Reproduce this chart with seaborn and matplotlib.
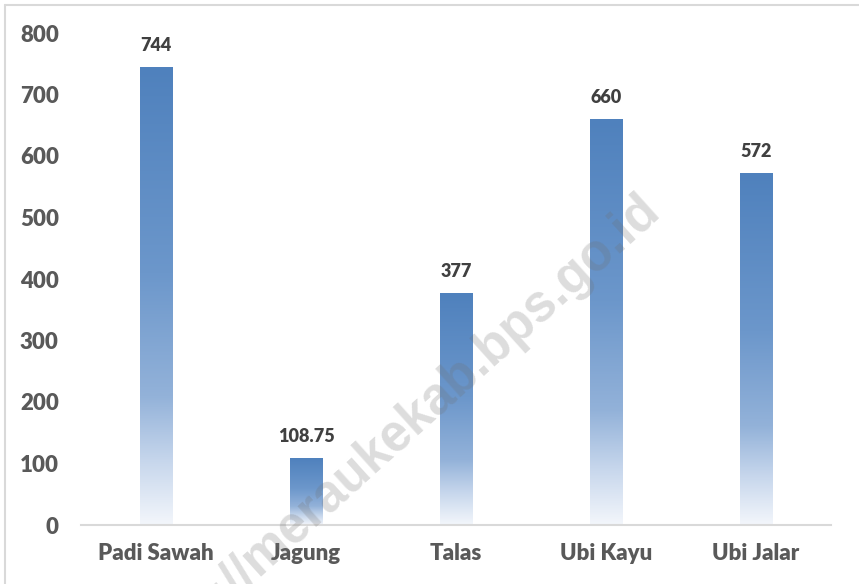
import numpy as np
import matplotlib
matplotlib.use('Agg')
import matplotlib.pyplot as plt
from matplotlib.colors import LinearSegmentedColormap
from matplotlib.lines import Line2D
import seaborn as sns

# data
crops  = ['Padi Sawah', 'Jagung', 'Talas', 'Ubi Kayu', 'Ubi Jalar']
values = [744, 108.75, 377, 660, 572]
labels = ['744', '108.75', '377', '660', '572']
yticks = [0, 100, 200, 300, 400, 500, 600, 700, 800]

sns.set_style('white')
plt.rcParams['font.family'] = ['Lato', 'DejaVu Sans']

fig = plt.figure(figsize=(8.59, 5.84), dpi=100)
ax = fig.add_axes([81/859, 59/584, 750/859, 492/584])

sns.barplot(x=crops, y=values, width=0.22, color='#4F81BD', ax=ax)

# vertical gradient fill: blue at top fading to near white at the base
grad_cmap = LinearSegmentedColormap.from_list('bar_grad', [
    (0.0, '#4F81BD'), (0.45, '#6C97CB'), (0.72, '#93B2D9'),
    (0.86, '#C6D6EC'), (1.0, '#F3F6FB')])
grad = np.linspace(0, 1, 256).reshape(-1, 1)
for p in ax.patches:
    x0, y0, w, h = p.get_x(), p.get_y(), p.get_width(), p.get_height()
    ax.imshow(grad, extent=[x0, x0 + w, y0, y0 + h], aspect='auto',
              cmap=grad_cmap, origin='upper', zorder=2)
    p.set_visible(False)

for i, (v, lab) in enumerate(zip(values, labels)):
    ax.annotate(lab, (i, v), xytext=(0, 11.8), textcoords='offset points',
                ha='center', va='baseline', fontsize=13, fontweight='heavy',
                color='#404040')

ax.set_xlim(-0.5, len(crops) - 0.5)
ax.set_ylim(0, 800)
ax.set_yticks(yticks)
ax.set_yticklabels([str(t) for t in yticks])
for s in ['top', 'right', 'left']:
    ax.spines[s].set_visible(False)
ax.spines['bottom'].set_color('#D9D9D9')
ax.spines['bottom'].set_linewidth(1.5)
ax.tick_params(axis='both', length=0, labelsize=16, labelcolor='#595959')
ax.tick_params(axis='y', pad=16)
ax.tick_params(axis='x', pad=13)
for t in ax.get_xticklabels() + ax.get_yticklabels():
    t.set_fontweight('heavy')
ax.set_xlabel('')
ax.set_ylabel('')

# watermark
fig.text(662/859, 1 - 213/584, 'https://meraukekab.bps.go.id',
         ha='right', va='baseline', rotation=42, rotation_mode='anchor',
         fontsize=37, fontweight='bold', family=['Liberation Sans', 'DejaVu Sans'],
         color='#707070', alpha=0.24, zorder=5)

# chart border (top and left edges visible)
fig.add_artist(Line2D([5/859, 1], [1 - 5/584, 1 - 5/584], transform=fig.transFigure,
                      color='#D9D9D9', lw=1.5))
fig.add_artist(Line2D([5/859, 5/859], [0, 1 - 5/584], transform=fig.transFigure,
                      color='#D9D9D9', lw=1.5))

fig.savefig('out.png', dpi=100)
